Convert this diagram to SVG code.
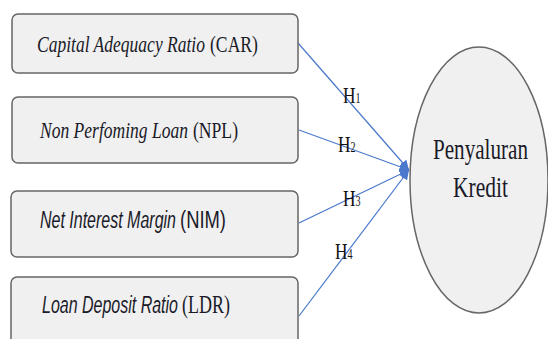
<svg xmlns="http://www.w3.org/2000/svg" width="548" height="339" viewBox="0 0 548 339">
<defs>
<style>
.box{fill:#f0f0f0;stroke:#666;stroke-width:1.5}
.ser{font-family:"Liberation Serif","Times New Roman",serif;fill:#1a1a28}
.san{font-family:"Liberation Sans",Arial,sans-serif;fill:#1a1a28}
.it{font-style:italic}
.edge{stroke:#4a78cc;stroke-width:1.2;fill:none;marker-end:url(#ah)}
.lbl{font-family:"Liberation Serif","Times New Roman",serif;fill:#111;font-size:24px}
</style>
<marker id="ah" viewBox="0 0 10 10" refX="10" refY="5" markerWidth="8" markerHeight="8" markerUnits="strokeWidth" orient="auto">
<path d="M0,0 L10,5 L0,10 z" fill="#4a78cc"/>
</marker>
</defs>
<rect width="548" height="339" fill="#ffffff"/>
<g id="connectors">
<line class="edge" x1="298" y1="43" x2="409" y2="170"/>
<line class="edge" x1="299" y1="130" x2="409" y2="170"/>
<line class="edge" x1="299" y1="223" x2="409" y2="170"/>
<line class="edge" x1="299" y1="316" x2="409" y2="170"/>
<text class="lbl" transform="translate(343,103) scale(0.72,1)">H<tspan font-size="14">1</tspan></text>
<text class="lbl" transform="translate(338,152) scale(0.72,1)">H<tspan font-size="14">2</tspan></text>
<text class="lbl" transform="translate(343,206) scale(0.72,1)">H<tspan font-size="14">3</tspan></text>
<text class="lbl" transform="translate(335,259) scale(0.72,1)">H<tspan font-size="14">4</tspan></text>
</g>
<g id="car">
<rect class="box" x="12" y="14" width="286" height="59" rx="6"/>
<text class="ser it" transform="translate(37,52) scale(1,1.36)" font-size="17.6" textLength="168" lengthAdjust="spacingAndGlyphs">Capital Adequacy Ratio</text>
<text class="ser" transform="translate(210,52) scale(1,1.36)" font-size="17.6" textLength="48" lengthAdjust="spacingAndGlyphs">(CAR)</text>
</g>
<g id="npl">
<rect class="box" x="12" y="97" width="286" height="66" rx="6"/>
<text class="ser it" transform="translate(40,138) scale(1,1.36)" font-size="17.6" textLength="148" lengthAdjust="spacingAndGlyphs">Non Perfoming Loan</text>
<text class="ser" transform="translate(193,138) scale(1,1.36)" font-size="17.6" textLength="45" lengthAdjust="spacingAndGlyphs">(NPL)</text>
</g>
<g id="nim">
<rect class="box" x="11" y="191" width="287" height="66" rx="6"/>
<text class="san it" transform="translate(40,228) scale(1,1.45)" font-size="16.5" textLength="136" lengthAdjust="spacingAndGlyphs">Net Interest Margin</text>
<text class="san" transform="translate(180,228) scale(1,1.45)" font-size="16.5" textLength="46" lengthAdjust="spacingAndGlyphs">(NIM)</text>
</g>
<g id="ldr">
<rect class="box" x="11" y="277" width="287" height="68" rx="6"/>
<text class="san it" transform="translate(42,313) scale(1,1.5)" font-size="16.5" textLength="136" lengthAdjust="spacingAndGlyphs">Loan Deposit Ratio</text>
<text class="ser" transform="translate(182,313) scale(1,1.39)" font-size="18" textLength="48" lengthAdjust="spacingAndGlyphs">(LDR)</text>
</g>
<g id="penyaluran">
<ellipse class="box" cx="479" cy="180" rx="69" ry="133"/>
<text class="ser" transform="translate(433,159) scale(1,1.37)" font-size="21.1" textLength="95" lengthAdjust="spacingAndGlyphs">Penyaluran</text>
<text class="ser" transform="translate(453,197) scale(1,1.37)" font-size="21.1" textLength="55" lengthAdjust="spacingAndGlyphs">Kredit</text>
</g>
</svg>
